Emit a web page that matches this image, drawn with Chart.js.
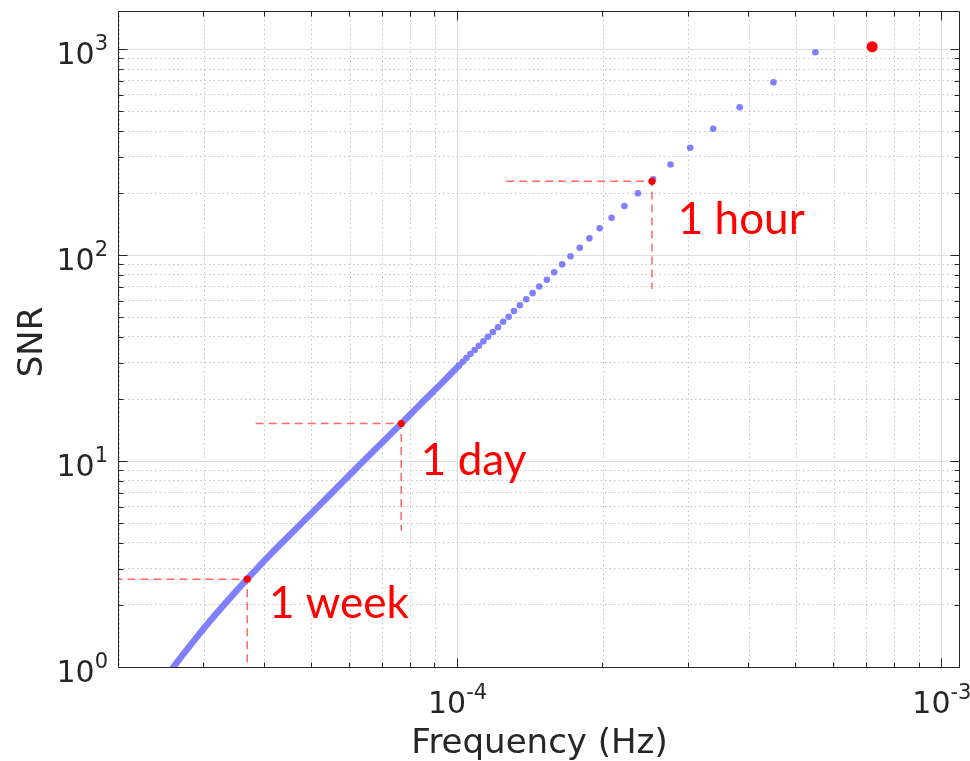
<!DOCTYPE html>
<html>
<head>
<meta charset="utf-8">
<script src="https://cdn.jsdelivr.net/npm/chart.js@4/dist/chart.umd.min.js"></script>
<style>
  html, body { margin: 0; padding: 0; background: #ffffff; }
  #wrap { width: 970px; height: 761px; position: relative; }
</style>
</head>
<body>
<div id="wrap"><canvas id="c" width="970" height="761"></canvas></div>
<script>
// ---------------- data ----------------
// dense, continuous part of the track (frequency in Hz, SNR)
const curveFreq = [2.590e-5, 2.737e-5, 2.916e-5, 3.106e-5, 3.362e-5, 3.679e-5, 4.064e-5, 4.540e-5,
                   5.152e-5, 5.845e-5, 6.634e-5, 7.648e-5, 8.409e-5, 9.248e-5, 1.007e-4];
const curveSNR  = [1.00, 1.184, 1.427, 1.706, 2.115, 2.673, 3.431, 4.457,
                   6.000, 8.088, 10.90, 15.17, 19.02, 23.7, 29.1];

// separated samples at higher frequency
const dotFreq = [1.007e-4, 1.025e-4, 1.043e-4, 1.063e-4, 1.085e-4, 1.107e-4, 1.131e-4, 1.156e-4,
                 1.183e-4, 1.212e-4, 1.242e-4, 1.275e-4, 1.308e-4, 1.345e-4, 1.386e-4, 1.429e-4,
                 1.475e-4, 1.529e-4, 1.583e-4, 1.644e-4, 1.711e-4, 1.788e-4, 1.872e-4, 1.965e-4,
                 2.080e-4, 2.210e-4, 2.357e-4, 2.533e-4, 2.753e-4, 3.022e-4, 3.371e-4, 3.824e-4,
                 4.49e-4, 5.48e-4];
const dotSNR  = [29.1, 30.3, 31.6, 33.1, 34.6, 36.3, 38.1, 40.1,
                 42.3, 44.6, 47.4, 50.2, 53.5, 57.0, 61.0, 65.3,
                 70.3, 75.9, 82.4, 90.1, 98.6, 108.5, 120.5, 134.8,
                 151.7, 173, 199.3, 233, 275, 332, 410, 521,
                 689, 964];

// time-to-merger markers
const markNames    = ['1 week', '1 day', '1 hour'];
const markFreq     = [3.68e-5, 7.65e-5, 2.52e-4];
const markSNR      = [2.67, 15.2, 228];
const dashFromFreq = [1.84e-5, 3.83e-5, 1.26e-4];   // left end of horizontal dashes
const dashToSNR    = [0.80, 4.59, 68.4];            // lower end of vertical dashes
const labelFreq    = [4.08e-5, 8.40e-5, 2.85e-4];   // label anchors (left, baseline)
const labelSNR     = [1.723, 8.55, 126.5];

// final (merger) point
const endFreq = [7.18e-4];
const endSNR  = [1026];

// axes
const xMin = 2.0e-5, xMax = 1.09e-3;
const yMin = 1, yMax = 1530;
const xTickValues = [1e-4, 1e-3];
const xTickExp    = ['-4', '-3'];
const yTickValues = [1, 10, 100, 1000];
const yTickExp    = ['0', '1', '2', '3'];
const xTitle = 'Frequency (Hz)';
const yTitle = 'SNR';

// ---------------- helpers ----------------
const zip = (xs, ys) => xs.map((v, i) => ({ x: v, y: ys[i] }));
function logTicks(min, max) {
  const t = [];
  for (let d = Math.floor(Math.log10(min)); d <= Math.ceil(Math.log10(max)); d++) {
    for (let k = 1; k <= 9; k++) {
      const v = k * Math.pow(10, d);
      if (v >= min * 0.99999 && v <= max * 1.00001) t.push({ value: v, major: k === 1 });
    }
  }
  return t;
}
const isMajor = ctx => ctx && ctx.tick && ctx.tick.major;

const BLUE = 'rgb(128,128,255)';
const RED = '#ff0000';
const DASH = 'rgba(255,30,30,0.68)';
const AXIS = '#262626';

const dashSets = markNames.map((n, i) => ({
  type: 'line',
  label: n + ' guide',
  data: [
    { x: dashFromFreq[i], y: markSNR[i] },
    { x: markFreq[i], y: markSNR[i] },
    { x: markFreq[i], y: dashToSNR[i] }
  ],
  borderColor: DASH,
  borderWidth: 1.5,
  borderDash: [8, 5],
  pointRadius: 0,
  tension: 0,
  fill: false,
  clip: 0,
  order: 4
}));

const gridOpts = {
  display: true,
  drawTicks: false,
  color: ctx => isMajor(ctx) ? '#dedede' : '#c4c4c4',
  lineWidth: 1
};
const borderOpts = {
  display: false,
  dash: ctx => (ctx && ctx.tick && !ctx.tick.major) ? [1.5, 3] : []
};

// ---------------- annotation / axis-text plugin ----------------
const decorPlugin = {
  id: 'decor',
  afterDraw(chart) {
    const { ctx, chartArea: a, scales: { x, y } } = chart;
    ctx.save();
    // axes box
    ctx.strokeStyle = AXIS;
    ctx.lineWidth = 1;
    const L = a.left - 0.5, R = a.right - 0.5, T = a.top + 0.5, B = a.bottom + 0.5;
    ctx.beginPath();
    ctx.moveTo(L, T); ctx.lineTo(R, T); ctx.lineTo(R, B); ctx.lineTo(L, B); ctx.closePath();
    ctx.stroke();
    // inward ticks on all sides
    ctx.beginPath();
    x.ticks.forEach(t => {
      const px = Math.round(x.getPixelForValue(t.value)) - 0.5;
      if (px <= a.left + 1 || px >= a.right - 1) return;
      const len = t.major ? 9 : 5;
      ctx.moveTo(px, B); ctx.lineTo(px, B - len);
      ctx.moveTo(px, T); ctx.lineTo(px, T + len);
    });
    y.ticks.forEach(t => {
      const py = Math.round(y.getPixelForValue(t.value)) + 0.5;
      if (py <= a.top + 1 || py >= a.bottom - 1) return;
      const len = t.major ? 9 : 5;
      ctx.moveTo(L, py); ctx.lineTo(L + len, py);
      ctx.moveTo(R, py); ctx.lineTo(R - len, py);
    });
    ctx.stroke();

    // tick labels 10^n
    ctx.fillStyle = AXIS;
    ctx.textBaseline = 'alphabetic';
    ctx.textAlign = 'left';
    const big = '30px "DejaVu Sans"', small = '21px "DejaVu Sans"';
    xTickValues.forEach((v, i) => {
      const px = x.getPixelForValue(v);
      ctx.font = big; const w1 = ctx.measureText('10').width;
      ctx.font = small; const w2 = ctx.measureText(xTickExp[i]).width;
      const sx = px - (w1 + w2) / 2;
      ctx.font = big; ctx.fillText('10', sx, a.bottom + 46);
      ctx.font = small; ctx.fillText(xTickExp[i], sx + w1, a.bottom + 32);
    });
    yTickValues.forEach((v, i) => {
      const py = y.getPixelForValue(v);
      ctx.font = big; const w1 = ctx.measureText('10').width;
      ctx.font = small; const w2 = ctx.measureText(yTickExp[i]).width;
      const sx = a.left - 11 - (w1 + w2);
      ctx.font = big; ctx.fillText('10', sx, py + 15);
      ctx.font = small; ctx.fillText(yTickExp[i], sx + w1, py + 1);
    });

    // axis titles
    ctx.font = '34px "DejaVu Sans"';
    ctx.textAlign = 'center';
    ctx.fillText(xTitle, (a.left + a.right) / 2, a.bottom + 86);
    ctx.save();
    ctx.translate(42, (a.top + a.bottom) / 2 + 3);
    ctx.rotate(-Math.PI / 2);
    ctx.fillText(yTitle, 0, 0);
    ctx.restore();

    // red labels
    ctx.fillStyle = RED;
    ctx.textAlign = 'left';
    ctx.font = '44px Lato';
    markNames.forEach((n, i) => {
      ctx.fillText(n, x.getPixelForValue(labelFreq[i]), y.getPixelForValue(labelSNR[i]));
    });
    ctx.restore();
  }
};

new Chart(document.getElementById('c'), {
  type: 'scatter',
  data: {
    datasets: [
      {
        label: 'merger',
        data: zip(endFreq, endSNR),
        backgroundColor: RED, borderWidth: 0,
        pointRadius: 5.5, order: 0
      },
      {
        label: 'markers',
        data: zip(markFreq, markSNR),
        backgroundColor: RED, borderWidth: 0,
        pointRadius: 3.6, order: 1
      },
      {
        label: 'samples',
        data: zip(dotFreq, dotSNR),
        backgroundColor: BLUE, borderWidth: 0,
        pointRadius: 3.3, order: 2
      },
      {
        type: 'line',
        label: 'track',
        data: zip(curveFreq, curveSNR),
        borderColor: BLUE, borderWidth: 6.5,
        borderCapStyle: 'round', borderJoinStyle: 'round',
        pointRadius: 0, cubicInterpolationMode: 'monotone', fill: false,
        clip: 0, order: 3
      },
      ...dashSets
    ]
  },
  options: {
    responsive: false,
    devicePixelRatio: 1,
    animation: false,
    events: [],
    layout: { padding: { left: 119, right: 10, top: 11, bottom: 94 } },
    plugins: { legend: { display: false }, tooltip: { enabled: false }, title: { display: false } },
    scales: {
      x: {
        type: 'logarithmic', min: xMin, max: xMax,
        afterBuildTicks: s => { s.ticks = logTicks(xMin, xMax); },
        ticks: { display: false },
        grid: gridOpts, border: borderOpts
      },
      y: {
        type: 'logarithmic', min: yMin, max: yMax,
        afterBuildTicks: s => { s.ticks = logTicks(yMin, yMax); },
        ticks: { display: false },
        grid: gridOpts, border: borderOpts
      }
    }
  },
  plugins: [decorPlugin]
});
</script>
</body>
</html>
